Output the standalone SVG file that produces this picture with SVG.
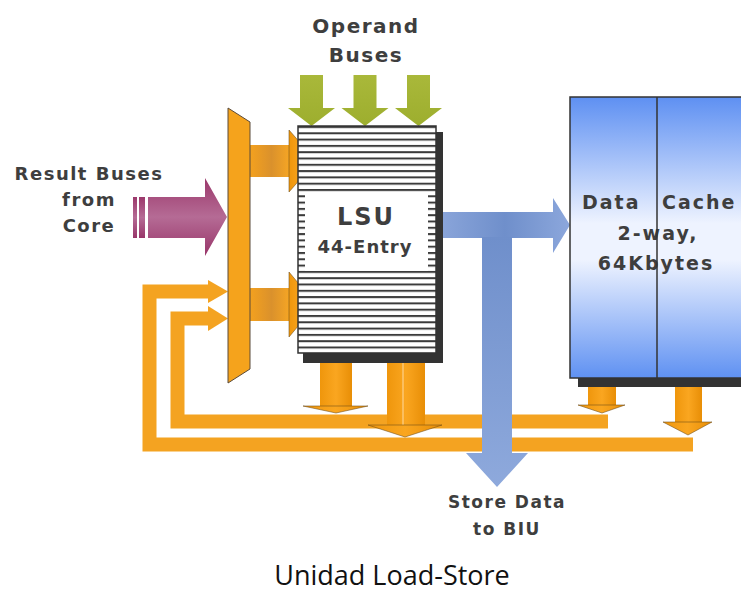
<svg xmlns="http://www.w3.org/2000/svg" width="741" height="592" viewBox="0 0 741 592">
<style>
.lbl{font-family:"DejaVu Sans","Liberation Sans",sans-serif;font-weight:bold;fill:#3e3e3e;text-anchor:middle}
.lft{text-anchor:start}
.cap{font-family:"Open Sans","Noto Sans",sans-serif;font-size:27px;fill:#111;text-anchor:middle}
.loop{fill:none;stroke:#f4a321;stroke-width:14;stroke-linejoin:miter}
.ofb{fill:#f4a321}
.odn{fill:url(#gOrV)}
.ohd{fill:url(#gOrV);stroke:#6e4c18;stroke-width:0.8;stroke-opacity:0.7}
.ohz{fill:url(#gOrH)}
.green{fill:url(#gGreen)}
.edge{fill:none;stroke:#333;stroke-width:1.5}
.shadow{fill:#333}
</style>
<defs>
<linearGradient id="gOrH" x1="0" y1="0" x2="1" y2="0">
<stop offset="0" stop-color="#f5a21e"/><stop offset="0.55" stop-color="#da912c"/><stop offset="1" stop-color="#f6a624"/>
</linearGradient>
<linearGradient id="gOrV" x1="0" y1="0" x2="1" y2="0">
<stop offset="0" stop-color="#ef960c"/><stop offset="0.5" stop-color="#faa620"/><stop offset="1" stop-color="#e88e06"/>
</linearGradient>
<linearGradient id="gGreen" x1="0" y1="0" x2="0" y2="1">
<stop offset="0" stop-color="#a9b83a"/><stop offset="1" stop-color="#9dae2e"/>
</linearGradient>
<linearGradient id="gMag" x1="0" y1="0" x2="0" y2="1">
<stop offset="0" stop-color="#9b386b"/><stop offset="0.5" stop-color="#b56b95"/><stop offset="1" stop-color="#983569"/>
</linearGradient>
<linearGradient id="gBlueH" x1="0" y1="0" x2="1" y2="0">
<stop offset="0" stop-color="#8aa5da"/><stop offset="0.5" stop-color="#6f8fcb"/><stop offset="1" stop-color="#8ca7dc"/>
</linearGradient>
<linearGradient id="gBlueV" x1="0" y1="0" x2="0" y2="1">
<stop offset="0" stop-color="#6f8fcb"/><stop offset="1" stop-color="#8ea9dc"/>
</linearGradient>
<linearGradient id="gDC" x1="0" y1="0" x2="0" y2="1">
<stop offset="0" stop-color="#5e90f2"/><stop offset="0.45" stop-color="#eef3ff"/><stop offset="0.58" stop-color="#eef3ff"/><stop offset="1" stop-color="#5f91f2"/>
</linearGradient>
<pattern id="stripes" patternUnits="userSpaceOnUse" x="0" y="126" width="10" height="6.3">
<rect width="10" height="6.3" fill="#fff"/><rect width="10" height="2" fill="#3b3b3b"/>
</pattern>
</defs>

<g id="connectors">
<!-- feedback loops -->
<path class="loop" d="M693,444.5 H149.5 V291.5 H212"/>
<polygon class="ofb" points="208,280 228,291.5 208,303"/>
<path class="loop" d="M608,421.5 H177.5 V318.5 H212"/>
<polygon class="ofb" points="208,306 228,318.5 208,331"/>
<!-- LSU down arrows -->
<rect class="odn" x="320" y="360" width="32" height="46"/>
<polygon class="ohd" points="303,406 368,406 336,413"/>
<rect class="odn" x="387" y="360" width="38" height="65"/>
<line x1="403" y1="362" x2="403" y2="430" stroke="#ffd9a0" stroke-width="1"/>
<polygon class="ohd" points="368,425 442,425 405,437"/>
<!-- Data cache down arrows -->
<rect class="odn" x="588" y="385" width="28" height="20"/>
<polygon class="ohd" points="578,405 625,405 602,413"/>
<rect class="odn" x="675" y="385" width="27" height="37"/>
<polygon class="ohd" points="663,422 712,422 688,435"/>
<!-- blue store data arrows -->
<polygon fill="url(#gBlueH)" points="440,212 553,212 553,198 570,225 553,253 553,238 440,238"/>
<polygon fill="url(#gBlueV)" points="482,237 512,237 512,453 528,453 497,487 466,453 482,453"/>
<!-- mux to LSU arrows -->
<rect class="ohz" x="249" y="145" width="41" height="32"/>
<polygon class="ohd" points="289,130 316,161 289,192"/>
<rect class="ohz" x="249" y="288" width="41" height="33"/>
<polygon class="ohd" points="289,272 316,304.5 289,337"/>
<!-- result buses from core -->
<rect x="133" y="197" width="4" height="41" fill="url(#gMag)"/>
<rect x="139" y="197" width="6" height="41" fill="url(#gMag)"/>
<polygon fill="url(#gMag)" points="148,197 205,197 205,178 227,217 205,256 205,238 148,238"/>
<!-- operand buses -->
<polygon class="green" points="300,75 323,75 323,108 335,108 311.5,126 288,108 300,108"/>
<polygon class="green" points="353.5,75 376.5,75 376.5,108 388.5,108 365,126 341.5,108 353.5,108"/>
<polygon class="green" points="407,75 430,75 430,108 442,108 418.5,126 395,108 407,108"/>
</g>

<g id="mux">
<polygon points="228,108 250,122 250,369 228,383" fill="#f5a31c" stroke="#5a4a3a" stroke-width="1"/>
</g>

<g id="lsu">
<rect class="shadow" x="303" y="132" width="140" height="231"/>
<rect x="298" y="126" width="138" height="227" fill="#fff"/>
<rect x="298" y="126" width="138" height="69" fill="url(#stripes)"/>
<rect x="298" y="195" width="7" height="76" fill="url(#stripes)"/>
<rect x="428" y="195" width="8" height="76" fill="url(#stripes)"/>
<rect x="298" y="270.9" width="138" height="82" fill="url(#stripes)"/>
<rect class="edge" x="298" y="126" width="138" height="227"/>
<text class="lbl" x="366" y="225" font-size="24" letter-spacing="2">LSU</text>
<text class="lbl" x="365" y="253" font-size="18" letter-spacing="1">44-Entry</text>
</g>

<g id="data-cache">
<rect class="shadow" x="578" y="105" width="180" height="282"/>
<rect x="570" y="97" width="190" height="281" fill="url(#gDC)" stroke="#333" stroke-width="1.5"/>
<text class="lbl lft" y="209" font-size="19" letter-spacing="2"><tspan x="582">Data</tspan><tspan x="662">Cache</tspan></text>
<text class="lbl" x="658" y="240" font-size="19" letter-spacing="2">2-way,</text>
<text class="lbl" x="656" y="270" font-size="19" letter-spacing="2">64Kbytes</text>
<line x1="657" y1="97" x2="657" y2="378" stroke="#333" stroke-width="1.5"/>
</g>

<g id="labels">
<text class="lbl" x="366" y="33" font-size="20" letter-spacing="1.5">Operand</text>
<text class="lbl" x="366" y="62" font-size="20" letter-spacing="1.5">Buses</text>
<text class="lbl" x="89" y="180" font-size="18" letter-spacing="1.5">Result Buses</text>
<text class="lbl" x="89" y="206" font-size="18" letter-spacing="1.5">from</text>
<text class="lbl" x="89" y="232" font-size="18" letter-spacing="1.5">Core</text>
<text class="lbl" x="507" y="508" font-size="17" letter-spacing="1.5">Store Data</text>
<text class="lbl" x="507" y="535" font-size="17" letter-spacing="1.5">to BIU</text>
<text class="cap" x="392" y="585">Unidad Load-Store</text>
</g>
</svg>
